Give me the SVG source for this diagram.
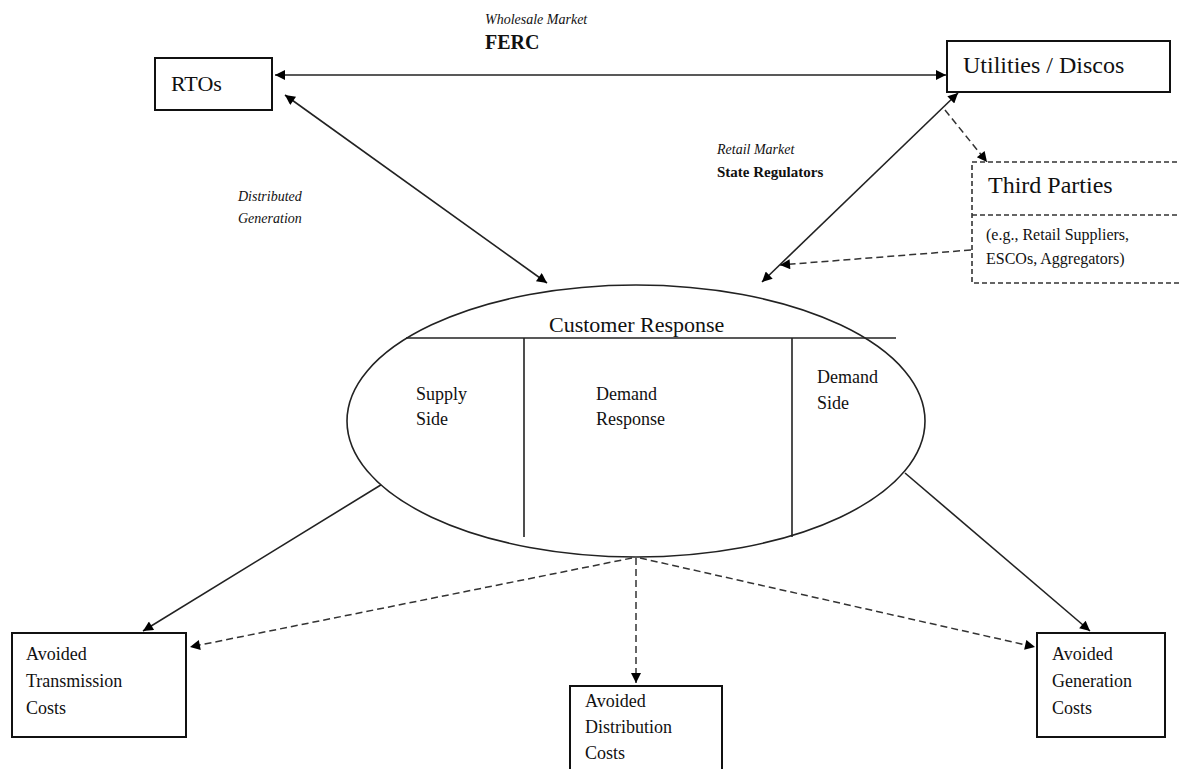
<svg xmlns="http://www.w3.org/2000/svg" width="1179" height="769" viewBox="0 0 1179 769">
<defs>
<marker id="ah" viewBox="0 0 10 10" refX="10" refY="5" markerWidth="12" markerHeight="10" markerUnits="userSpaceOnUse" orient="auto-start-reverse">
<path d="M0,0 L10,5 L0,10 z" fill="#000"/>
</marker>
<style>
text{font-family:"Liberation Serif","Times New Roman",serif;fill:#111}
.box{fill:#fff;stroke:#111;stroke-width:2}
.dbox{fill:#fff;stroke:#333;stroke-width:1.6;stroke-dasharray:5,3}
.c{stroke:#222;stroke-width:1.6;fill:none}
.d{stroke:#333;stroke-width:1.5;fill:none;stroke-dasharray:7,4}
.lbl{font-size:18px}
.it{font-style:italic;font-size:14px}
</style>
</defs>
<rect width="1179" height="769" fill="#fff"/>

<g id="connectors">
<line class="c" x1="275" y1="75" x2="946" y2="75" stroke="#555" marker-start="url(#ah)" marker-end="url(#ah)"/>
<line class="c" x1="285" y1="95" x2="547" y2="283" marker-start="url(#ah)" marker-end="url(#ah)"/>
<line class="c" x1="958" y1="93" x2="762" y2="282" marker-start="url(#ah)" marker-end="url(#ah)"/>
<line class="d" x1="945" y1="110" x2="987" y2="162" marker-end="url(#ah)"/>
<line class="d" x1="971" y1="250" x2="780" y2="265" marker-end="url(#ah)"/>
<line class="c" x1="384" y1="483" x2="143" y2="631" marker-end="url(#ah)"/>
<line class="d" x1="632" y1="558" x2="190" y2="647" marker-end="url(#ah)"/>
<line class="d" x1="636" y1="558" x2="636" y2="683" stroke-width="2" marker-end="url(#ah)"/>
<line class="d" x1="640" y1="558" x2="1035" y2="647" marker-end="url(#ah)"/>
<line class="c" x1="905" y1="473" x2="1090" y2="631" marker-end="url(#ah)"/>
</g>

<g id="labels">
<text class="it" x="485" y="24" font-size="13">Wholesale Market</text>
<text x="485" y="49" font-size="20" font-weight="bold">FERC</text>
<text class="it" x="238" y="201" font-size="15">Distributed</text>
<text class="it" x="238" y="223" font-size="15">Generation</text>
<text class="it" x="717" y="154">Retail Market</text>
<text x="717" y="177" font-size="15" font-weight="bold">State Regulators</text>
</g>

<g id="rtos">
<rect class="box" x="155" y="58" width="117" height="52"/>
<text x="171" y="91" font-size="22">RTOs</text>
</g>

<g id="utilities">
<rect class="box" x="947" y="41" width="223" height="51"/>
<text x="963" y="73" font-size="24">Utilities / Discos</text>
</g>

<g id="third-parties">
<rect class="dbox" x="972" y="162" width="215" height="121"/>
<line class="dbox" x1="972" y1="215" x2="1179" y2="215"/>
<text x="988" y="193" font-size="24">Third Parties</text>
<text x="986" y="240" font-size="16">(e.g., Retail Suppliers,</text>
<text x="986" y="264" font-size="16">ESCOs, Aggregators)</text>
</g>

<g id="customer-response">
<ellipse cx="636" cy="421" rx="289" ry="136" fill="#fff" stroke="#222" stroke-width="1.6"/>
<line class="c" x1="406" y1="338" x2="896" y2="338" stroke-width="2"/>
<line class="c" x1="524" y1="338" x2="524" y2="537" stroke="#555"/>
<line class="c" x1="792" y1="338" x2="792" y2="537" stroke-width="2"/>
<text x="549" y="332" font-size="22">Customer Response</text>
<text class="lbl" x="416" y="400">Supply</text>
<text class="lbl" x="416" y="425">Side</text>
<text class="lbl" x="596" y="400">Demand</text>
<text class="lbl" x="596" y="425">Response</text>
<text class="lbl" x="817" y="383">Demand</text>
<text class="lbl" x="817" y="409">Side</text>
</g>

<g id="avoided-transmission">
<rect class="box" x="12" y="633" width="174" height="104"/>
<text class="lbl" x="26" y="660">Avoided</text>
<text class="lbl" x="26" y="687">Transmission</text>
<text class="lbl" x="26" y="714">Costs</text>
</g>

<g id="avoided-distribution">
<rect class="box" x="570" y="686" width="152" height="100"/>
<text class="lbl" x="585" y="707">Avoided</text>
<text class="lbl" x="585" y="733">Distribution</text>
<text class="lbl" x="585" y="759">Costs</text>
</g>

<g id="avoided-generation">
<rect class="box" x="1037" y="633" width="128" height="104"/>
<text class="lbl" x="1052" y="660">Avoided</text>
<text class="lbl" x="1052" y="687">Generation</text>
<text class="lbl" x="1052" y="714">Costs</text>
</g>
</svg>
